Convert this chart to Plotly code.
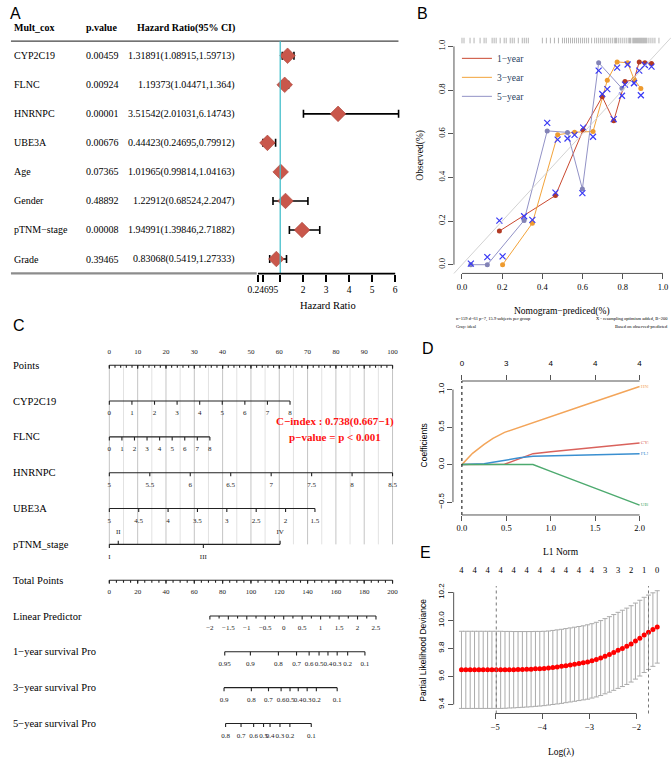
import plotly.graph_objects as go

W, H = 671, 761
SERIF = "Liberation Serif, Times New Roman, serif"
SANS = "Liberation Sans, Arial, sans-serif"


def px_x(p):
    return p / W


def px_y(p):
    return 1 - p / H


# ---------------- A: multivariate Cox ----------------
cox_vars = ["CYP2C19", "FLNC", "HNRNPC", "UBE3A", "Age", "Gender", "pTNM−stage", "Grade"]
cox_p = ["0.00459", "0.00924", "0.00001", "0.00676", "0.07365", "0.48892", "0.00008", "0.39465"]
cox_hr = [1.31891, 1.19373, 3.51542, 0.44423, 1.01965, 1.22912, 1.94991, 0.83068]
cox_lo = [1.08915, 1.04471, 2.01031, 0.24695, 0.99814, 0.68524, 1.39846, 0.5419]
cox_hi = [1.59713, 1.364, 6.14743, 0.79912, 1.04163, 2.2047, 2.71882, 1.27333]
hr_ticks = [0.03, 0.24695, 1, 2, 3, 4, 5, 6]
hr_ticktext = ["", "0.24695", "", "2", "3", "4", "5", "6"]

# ---------------- B: calibration ----------------
cal_names = ["1−year", "3−year", "5−year"]
cal_pred = [
    [0.186, 0.465, 0.603, 0.698, 0.755, 0.811, 0.856, 0.882, 0.910, 0.943],
    [0.202, 0.350, 0.476, 0.560, 0.652, 0.723, 0.772, 0.824, 0.856, 0.890],
    [0.044, 0.126, 0.309, 0.424, 0.525, 0.599, 0.680, 0.796],
]
cal_obs = [
    [0.154, 0.317, 0.617, 0.769, 0.659, 0.839, 0.847, 0.929, 0.925, 0.922],
    [0.000, 0.190, 0.595, 0.607, 0.610, 0.845, 0.929, 0.925, 0.850, 0.807],
    [0.000, 0.000, 0.203, 0.613, 0.606, 0.347, 0.925, 0.808],
]
cal_corr = [
    [0.202, 0.330, 0.628, 0.782, 0.667, 0.825, 0.832, 0.889, 0.915, 0.907],
    [0.038, 0.205, 0.573, 0.595, 0.586, 0.804, 0.903, 0.917, 0.832, 0.776],
    [0.005, 0.035, 0.222, 0.650, 0.578, 0.328, 0.889, 0.774],
]
cal_line_colors = ["#C9482F", "#F2A33A", "#9292C6"]
cal_dot_colors = ["#B23A24", "#EE9B2F", "#8282B6"]
rug_pred = [0.0, 0.01, 0.04, 0.06, 0.09, 0.11, 0.12, 0.15, 0.16, 0.17, 0.19, 0.21,
            0.22, 0.24, 0.25, 0.26, 0.28, 0.30, 0.31, 0.32, 0.33, 0.40, 0.42, 0.44,
            0.46, 0.48, 0.50, 0.51, 0.52, 0.53, 0.54, 0.55, 0.56, 0.57, 0.58, 0.59,
            0.60, 0.61, 0.62, 0.63, 0.645, 0.66, 0.67, 0.68, 0.69, 0.70, 0.71, 0.72,
            0.73, 0.74, 0.75, 0.76, 0.765, 0.77, 0.78, 0.79, 0.80, 0.81, 0.82, 0.83,
            0.835, 0.84, 0.85, 0.855, 0.86, 0.865, 0.87, 0.875, 0.88, 0.885, 0.89,
            0.895, 0.90, 0.905, 0.91, 0.915, 0.92, 0.93, 0.94, 0.95, 0.96, 0.98]

# ---------------- C: nomogram ----------------
nomo_rows = ["Points", "CYP2C19", "FLNC", "HNRNPC", "UBE3A", "pTNM_stage", "Total Points",
             "Linear Predictor", "1−year survival Pro", "3−year survival Pro", "5−year survival Pro"]
points_major = [0, 10, 20, 30, 40, 50, 60, 70, 80, 90, 100]
cyp_vals = [0, 1, 2, 3, 4, 5, 6, 7, 8]
cyp_max_pts = 63.8
flnc_vals = [0, 1, 2, 3, 4, 5, 6, 7, 8]
flnc_max_pts = 35.5
hnrnpc_vals = [5, 5.5, 6, 6.5, 7, 7.5, 8, 8.5]
hnrnpc_max_pts = 100
ube3a_vals = [5, 4.5, 4, 3.5, 3, 2.5, 2, 1.5]
ube3a_max_pts = 72.6
stage_labels = ["I", "II", "III", "IV"]
stage_pts = [0, 3.15, 33.2, 60.3]
total_major = [0, 20, 40, 60, 80, 100, 120, 140, 160, 180, 200]
lp_vals = [-2, -1.5, -1, -0.5, 0, 0.5, 1, 1.5, 2, 2.5]
surv1_labels = ["0.95", "0.9", "0.8", "0.7", "0.6", "0.5", "0.4", "0.3", "0.2", "0.1"]
surv1_pts = [81.5, 99.6, 119.4, 132.2, 141.1, 148.1, 154.4, 160.9, 168.3, 180.5]
surv3_labels = ["0.9", "0.8", "0.7", "0.6", "0.5", "0.4", "0.3", "0.2", "0.1"]
surv3_pts = [81.0, 100.3, 112.4, 121.3, 127.6, 133.4, 139.7, 146.2, 160.9]
surv5_labels = ["0.8", "0.7", "0.6", "0.5", "0.4", "0.3", "0.2", "0.1"]
surv5_pts = [82.1, 93.0, 101.9, 108.9, 113.5, 120.5, 127.5, 142.6]

# ---------------- D: LASSO coefficient paths ----------------
l1_norm = [0.0, 0.12, 0.25, 0.35, 0.48, 0.65, 0.80, 1.0, 1.4, 2.0]
lasso_genes = ["HNRNPC", "CYP2C19", "FLNC", "UBE3A"]
lasso_coef = [
    [0.0, 0.15, 0.27, 0.35, 0.43, 0.50, 0.56, 0.64, 0.80, 1.04],
    [0.0, 0.0, 0.0, 0.0, 0.005, 0.08, 0.146, 0.17, 0.22, 0.287],
    [0.0, 0.0, 0.01, 0.03, 0.057, 0.09, 0.11, 0.116, 0.128, 0.145],
    [0.0, 0.0, 0.0, 0.0, 0.0, 0.0, 0.0, -0.09, -0.27, -0.54],
]
lasso_colors = ["#F3A55A", "#D9625C", "#3A8FD0", "#4DAA6F"]
df_ticks = [0, 0.5, 1.0, 1.5, 2.0]
df_labels = ["0", "3", "4", "4", "4"]

# ---------------- E: cross-validation ----------------
log_lambda = [-5.714, -5.622, -5.529, -5.437, -5.345, -5.253, -5.160, -5.068, -4.976, -4.883,
              -4.791, -4.699, -4.607, -4.514, -4.422, -4.330, -4.237, -4.145, -4.053, -3.961,
              -3.868, -3.776, -3.684, -3.591, -3.499, -3.407, -3.315, -3.222, -3.130, -3.038,
              -2.946, -2.853, -2.761, -2.669, -2.576, -2.484, -2.392, -2.300, -2.207, -2.115,
              -2.023, -1.930, -1.838, -1.746, -1.653, -1.561]
cv_mean = [9.647, 9.647, 9.647, 9.647, 9.647, 9.647, 9.647, 9.647, 9.647, 9.647,
           9.647, 9.648, 9.648, 9.649, 9.650, 9.651, 9.652, 9.654, 9.655, 9.657,
           9.660, 9.664, 9.668, 9.672, 9.677, 9.682, 9.687, 9.692, 9.697, 9.703,
           9.711, 9.720, 9.731, 9.744, 9.757, 9.771, 9.786, 9.800, 9.815, 9.832,
           9.852, 9.873, 9.896, 9.915, 9.934, 9.953]
cv_sd = [0.275, 0.275, 0.275, 0.275, 0.275, 0.275, 0.275, 0.275, 0.275, 0.275,
         0.274, 0.273, 0.272, 0.271, 0.270, 0.269, 0.268, 0.267, 0.266, 0.265,
         0.264, 0.264, 0.264, 0.264, 0.264, 0.264, 0.264, 0.264, 0.264, 0.265,
         0.265, 0.266, 0.267, 0.268, 0.269, 0.270, 0.271, 0.272, 0.272, 0.272,
         0.271, 0.270, 0.268, 0.265, 0.262, 0.258]
nonzero = ["4", "4", "4", "4", "4", "4", "4", "4", "4", "4", "4", "3", "3", "2", "1", "0"]
lambda_min_idx = 8
lambda_1se_idx = 43

fig = go.Figure()
shapes = []
annotations = []


def note(text, x, y, size, family=SERIF, color="black", xanchor="center", yanchor="middle",
         xref="paper", yref="paper", angle=0):
    annotations.append(dict(text=text, x=x, y=y, xref=xref, yref=yref, showarrow=False,
                            xanchor=xanchor, yanchor=yanchor, textangle=angle,
                            font=dict(family=family, size=size, color=color)))


# ---- A
rows_a = list(range(len(cox_vars)))
fig.add_trace(go.Scatter(
    x=cox_hr, y=rows_a, mode="markers", xaxis="x", yaxis="y",
    marker=dict(symbol="diamond", size=12, color="#C9574B", line=dict(color="#A84238", width=0.6)),
    error_x=dict(type="data", symmetric=False,
                 array=[h - m for h, m in zip(cox_hi, cox_hr)],
                 arrayminus=[m - l for m, l in zip(cox_hr, cox_lo)],
                 color="black", thickness=1.6, width=4),
    showlegend=False, hoverinfo="skip"))

for i, name in enumerate(cox_vars):
    note(name, px_x(6), i, 10, xanchor="left", yref="y")
    note(cox_p[i], px_x(79), i, 10, xanchor="left", yref="y")
    note(f"{cox_hr[i]}({cox_lo[i]},{cox_hi[i]})", px_x(233), i, 10, xanchor="right", yref="y")
note("<b>Mult_cox</b>", px_x(6), px_y(25), 10, xanchor="left")
note("<b>p.value</b>", px_x(79), px_y(25), 10, xanchor="left")
note("<b>Hazard Ratio(95% CI)</b>", px_x(233), px_y(25), 10, xanchor="right")
note("Hazard Ratio", px_x(325), px_y(304), 10.5)

shapes += [
    dict(type="line", xref="paper", yref="paper", x0=px_x(5), x1=px_x(396),
         y0=px_y(38.3), y1=px_y(38.3), line=dict(color="#444444", width=1.2)),
    dict(type="line", xref="paper", yref="paper", x0=px_x(5), x1=px_x(253),
         y0=px_y(271.4), y1=px_y(271.4), line=dict(color="#8C8C8C", width=2.2)),
    dict(type="line", xref="x", yref="y domain", x0=1, x1=1, y0=0, y1=1,
         line=dict(color="#45BFCC", width=1.3)),
    dict(type="line", xref="x", yref="y domain", x0=hr_ticks[0], x1=hr_ticks[-1], y0=0, y1=0,
         line=dict(color="black", width=1.8)),
]

# ---- B
for k, name in enumerate(cal_names):
    fig.add_trace(go.Scatter(x=cal_pred[k], y=cal_obs[k], mode="lines", name=name,
                             xaxis="x2", yaxis="y2", line=dict(color=cal_line_colors[k], width=1),
                             hoverinfo="skip"))
for k, name in enumerate(cal_names):
    fig.add_trace(go.Scatter(x=cal_pred[k], y=cal_obs[k], mode="markers", xaxis="x2", yaxis="y2",
                             marker=dict(color=cal_dot_colors[k], size=5), showlegend=False,
                             hoverinfo="skip"))
for k, name in enumerate(cal_names):
    fig.add_trace(go.Scatter(x=cal_pred[k], y=cal_corr[k], mode="markers", xaxis="x2", yaxis="y2",
                             marker=dict(symbol="x-thin", size=6, color="#3A3AF5",
                                         line=dict(color="#3A3AF5", width=1.2)),
                             showlegend=False, hoverinfo="skip"))
fig.add_trace(go.Scatter(x=rug_pred, y=[1.03] * len(rug_pred), mode="markers", xaxis="x2", yaxis="y2",
                         marker=dict(symbol="line-ns", size=5,
                                     line=dict(color="rgba(90,90,90,0.45)", width=1)),
                         showlegend=False, hoverinfo="skip"))
shapes += [
    dict(type="line", xref="x2 domain", yref="y2 domain", x0=0, x1=1, y0=0, y1=1,
         line=dict(color="#D2D2D2", width=1)),
    dict(type="line", xref="x2", yref="y2 domain", x0=0, x1=1, y0=0, y1=0,
         line=dict(color="#555555", width=1)),
    dict(type="line", xref="x2 domain", yref="y2", x0=0, x1=0, y0=0, y1=1,
         line=dict(color="#555555", width=1)),
]
note("Observed(%)", px_x(418), px_y(153), 9.5, angle=-90)
note("Nomogram−prediced(%)", px_x(561), px_y(310), 9.5)
note("n=159 d=61 p=7, 15.9 subjects per group", px_x(452), px_y(317), 4.5, xanchor="left")
note("Gray: ideal", px_x(452), px_y(325), 4.5, xanchor="left")
note("X - resampling optimism added, B=200", px_x(670), px_y(317), 4.5, xanchor="right")
note("Based on observed-predicted", px_x(670), px_y(325), 4.5, xanchor="right")


# ---- C
def nomo_row(row, ticks, texts, xa, minor=(), up=None, text_above=False):
    up = up or [False] * len(ticks)
    xs = [min(ticks), max(ticks), None]
    ys = [row, row, None]
    for t, u in zip(ticks, up):
        xs += [t, t, None]
        ys += [row, row + (-0.1 if u else 0.1), None]
    for t in minor:
        xs += [t, t, None]
        ys += [row, row + 0.07, None]
    fig.add_trace(go.Scatter(x=xs, y=ys, mode="lines", xaxis=xa, yaxis="y3",
                             line=dict(color="#222222", width=1.1), showlegend=False,
                             hoverinfo="skip"))
    offs = [-0.35 if (u or text_above) else 0.35 for u in up]
    fig.add_trace(go.Scatter(x=ticks, y=[row + o for o in offs], mode="text", text=texts,
                             xaxis=xa, yaxis="y3", textposition="middle center",
                             textfont=dict(family=SERIF, size=7, color="#222222"),
                             showlegend=False, hoverinfo="skip"))


def fmt(v):
    return f"{v:g}".replace("-", "−")


nomo_row(0, points_major, [fmt(v) for v in points_major], "x3",
         minor=list(range(0, 101, 2)), text_above=True)
nomo_row(1, [v * cyp_max_pts / cyp_vals[-1] for v in cyp_vals], [fmt(v) for v in cyp_vals], "x3")
nomo_row(2, [v * flnc_max_pts / flnc_vals[-1] for v in flnc_vals], [fmt(v) for v in flnc_vals], "x3")
nomo_row(3, [(v - hnrnpc_vals[0]) * hnrnpc_max_pts / (hnrnpc_vals[-1] - hnrnpc_vals[0])
             for v in hnrnpc_vals], [fmt(v) for v in hnrnpc_vals], "x3")
nomo_row(4, [(ube3a_vals[0] - v) * ube3a_max_pts / (ube3a_vals[0] - ube3a_vals[-1])
             for v in ube3a_vals], [fmt(v) for v in ube3a_vals], "x3")
nomo_row(5, stage_pts, stage_labels, "x3", up=[False, True, False, True])
nomo_row(6, total_major, [fmt(v) for v in total_major], "x4", minor=list(range(0, 201, 5)))
nomo_row(7, lp_vals, [fmt(v) for v in lp_vals], "x5",
         minor=[v + 0.25 for v in lp_vals[:-1]])
nomo_row(8, surv1_pts, surv1_labels, "x4")
nomo_row(9, surv3_pts, surv3_labels, "x4")
nomo_row(10, surv5_pts, surv5_labels, "x4")

for i, name in enumerate(nomo_rows):
    note(name, px_x(5), i, 10.5, xanchor="left", yref="y3")

for v in range(0, 101, 5):
    shapes.append(dict(type="line", xref="x3", yref="y3", x0=v, x1=v, y0=0, y1=5, layer="below",
                       line=dict(color="#C4C4C4" if v % 10 == 0 else "#E2E2E2", width=1)))

note("<b>C−index : 0.738(0.667−1)</b>", px_x(331.5), px_y(420), 11, color="#FF1010")
note("<b>p−value = p < 0.001</b>", px_x(331.5), px_y(435.5), 11, color="#FF1010")

# ---- D
for gene, coef, col in zip(lasso_genes, lasso_coef, lasso_colors):
    fig.add_trace(go.Scatter(x=l1_norm, y=coef, mode="lines", xaxis="x6", yaxis="y6",
                             line=dict(color=col, width=1.5), showlegend=False, hoverinfo="skip"))
fig.add_trace(go.Scatter(x=[l1_norm[-1]] * 4, y=[c[-1] for c in lasso_coef], mode="text",
                         text=[" " + g for g in lasso_genes], textposition="middle right",
                         textfont=dict(family=SERIF, size=5, color=lasso_colors),
                         xaxis="x6", yaxis="y6", showlegend=False, hoverinfo="skip"))
fig.add_trace(go.Scatter(x=df_ticks, y=[0] * len(df_ticks), mode="markers", opacity=0,
                         xaxis="x7", yaxis="y6", showlegend=False, hoverinfo="skip"))
shapes += [
    dict(type="line", xref="x6", yref="y6 domain", x0=0, x1=0, y0=0, y1=1,
         line=dict(color="black", width=1, dash="dot")),
    dict(type="line", xref="x6", yref="y6 domain", x0=0, x1=2, y0=0, y1=0,
         line=dict(color="#555555", width=1)),
    dict(type="line", xref="x6", yref="y6 domain", x0=0, x1=2, y0=1, y1=1,
         line=dict(color="#555555", width=1)),
    dict(type="line", xref="x6 domain", yref="y6", x0=0, x1=0, y0=-0.5, y1=1.0,
         line=dict(color="#555555", width=1)),
]
note("Coefficients", px_x(422), px_y(444), 8.5, family=SANS, angle=-90)
note("L1 Norm", px_x(560), px_y(551.5), 9.5)

# ---- E
fig.add_trace(go.Scatter(
    x=log_lambda, y=cv_mean, mode="markers", xaxis="x8", yaxis="y8",
    marker=dict(color="#FF0000", size=5),
    error_y=dict(type="data", array=cv_sd, color="#ABABAB", thickness=1, width=2.5),
    showlegend=False, hoverinfo="skip"))
fig.add_trace(go.Scatter(x=log_lambda[::3], y=cv_mean[::3], mode="markers", opacity=0,
                         xaxis="x9", yaxis="y8", showlegend=False, hoverinfo="skip"))
shapes += [
    dict(type="line", xref="x8", yref="y8 domain", x0=log_lambda[lambda_min_idx],
         x1=log_lambda[lambda_min_idx], y0=0, y1=1, line=dict(color="#777777", width=1, dash="dot")),
    dict(type="line", xref="x8", yref="y8 domain", x0=log_lambda[lambda_1se_idx],
         x1=log_lambda[lambda_1se_idx], y0=0, y1=1, line=dict(color="#777777", width=1, dash="dot")),
    dict(type="line", xref="x8", yref="y8 domain", x0=-5, x1=-2, y0=0, y1=0,
         line=dict(color="#555555", width=1)),
    dict(type="line", xref="x8 domain", yref="y8", x0=0, x1=0, y0=9.4, y1=10.2,
         line=dict(color="#555555", width=1)),
]
note("Partial Likelihood Deviance", px_x(421), px_y(650), 8.5, family=SANS, angle=-90)
note("Log(λ)", px_x(560), px_y(752), 9.5)

# ---- panel letters
for letter, x, y in [("A", 2, 0), ("B", 413, 0), ("C", 5, 313), ("D", 418, 336), ("E", 416, 541)]:
    note(letter, px_x(x), px_y(y), 16, family=SANS, xanchor="left", yanchor="top")

tick_common = dict(showgrid=False, zeroline=False, showline=False, ticks="outside",
                   tickcolor="#555555", tickwidth=1, ticklen=5)

fig.update_layout(
    width=W, height=H, margin=dict(l=0, r=0, t=0, b=0),
    paper_bgcolor="white", plot_bgcolor="white",
    shapes=shapes, annotations=annotations,
    legend=dict(x=px_x(455), y=px_y(41), xanchor="left", yanchor="top",
                bgcolor="rgba(0,0,0,0)", font=dict(family=SERIF, size=9.5),
                itemwidth=30, tracegroupgap=0),
    xaxis=dict(domain=[px_x(250), px_x(400)], range=[-0.151, 6.315], anchor="y",
               tickvals=hr_ticks, ticktext=hr_ticktext,
               tickfont=dict(family=SERIF, size=9.5, color="black"),
               **{**tick_common, "tickcolor": "black", "tickwidth": 1.6, "ticklen": 7}),
    yaxis=dict(domain=[px_y(271.6), px_y(38.4)], range=[7.5, -0.5], visible=False),
    xaxis2=dict(domain=[px_x(452), px_x(671)], range=[-0.04, 1.04], anchor="y2",
                tickvals=[0, 0.2, 0.4, 0.6, 0.8, 1.0],
                ticktext=["0.0", "0.2", "0.4", "0.6", "0.8", "1.0"],
                tickfont=dict(family=SERIF, size=8.5, color="black"), **tick_common),
    yaxis2=dict(domain=[px_y(271.5), px_y(34.8)], range=[-0.04, 1.04], anchor="x2",
                tickvals=[0, 0.2, 0.4, 0.6, 0.8, 1.0],
                ticktext=["0.0", "0.2", "0.4", "0.6", "0.8", "1.0"], tickangle=-90,
                tickfont=dict(family=SERIF, size=8.5, color="black"), **tick_common),
    xaxis3=dict(domain=[px_x(75.7), px_x(418.6)], range=[-10, 110], anchor="y3", visible=False),
    xaxis4=dict(overlaying="x3", range=[-20, 220], anchor="y3", visible=False),
    xaxis5=dict(overlaying="x3", range=[-5.491, 3.716], anchor="y3", visible=False),
    yaxis3=dict(domain=[px_y(744.9), px_y(342.1)], range=[10.6, -0.6], anchor="x3", visible=False),
    xaxis6=dict(domain=[px_x(451), px_x(648)], range=[-0.1004, 2.097], anchor="y6",
                tickvals=[0, 0.5, 1.0, 1.5, 2.0], ticktext=["0.0", "0.5", "1.0", "1.5", "2.0"],
                tickfont=dict(family=SERIF, size=8.5, color="black"), **tick_common),
    xaxis7=dict(overlaying="x6", side="top", range=[-0.1004, 2.097], anchor="y6",
                tickvals=df_ticks, ticktext=df_labels, ticklabelstandoff=6,
                tickfont=dict(family=SANS, size=8, color="black"), **tick_common),
    yaxis6=dict(domain=[px_y(514), px_y(379.5)], range=[-0.671, 1.114], anchor="x6",
                tickvals=[-0.5, 0, 0.5, 1.0], ticktext=["−0.5", "0.0", "0.5", "1.0"], tickangle=-90,
                tickfont=dict(family=SANS, size=8, color="black"), **tick_common),
    xaxis8=dict(domain=[px_x(451.7), px_x(665)], range=[-5.88, -1.395], anchor="y8",
                tickvals=[-5, -4, -3, -2], ticktext=["−5", "−4", "−3", "−2"],
                tickfont=dict(family=SERIF, size=8.5, color="black"), **tick_common),
    xaxis9=dict(overlaying="x8", side="top", range=[-5.88, -1.395], anchor="y8",
                tickvals=log_lambda[::3], ticktext=nonzero, showgrid=False, zeroline=False,
                ticks="", ticklabelstandoff=10, tickfont=dict(family=SERIF, size=8.5, color="black")),
    yaxis8=dict(domain=[px_y(713.3), px_y(585.4)], range=[9.336, 10.244], anchor="x8",
                tickvals=[9.4, 9.6, 9.8, 10.0, 10.2], ticktext=["9.4", "9.6", "9.8", "10.0", "10.2"],
                tickangle=-90, tickfont=dict(family=SANS, size=8, color="black"), **tick_common),
)

# the page body has a default 8px margin; drop it so the figure sits at the window origin
fig.write_html("out.html", config={"displayModeBar": False},
               post_script="document.body.style.margin='0';")
